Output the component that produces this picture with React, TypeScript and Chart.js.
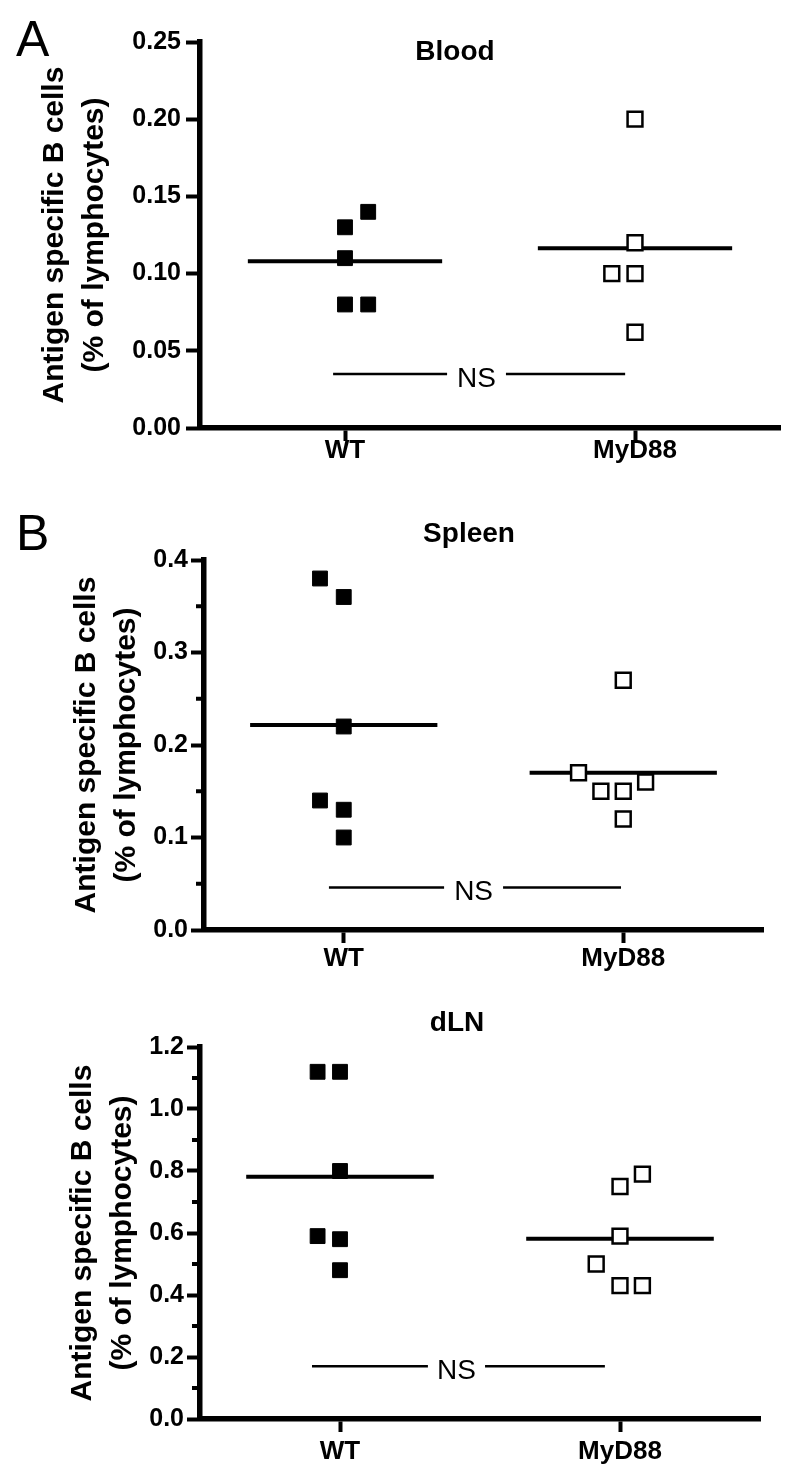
import React, { useEffect, useRef } from 'react';
import { Chart, registerables } from 'chart.js';

Chart.register(...registerables);

const FONT = '"Liberation Sans", Arial, Helvetica, sans-serif';

// Categories
const groups = ['WT', 'MyD88'];
const yTitle = ['Antigen specific B cells', '(% of lymphocytes)'];

// Panel A – Blood
const bloodWT = [0.13, 0.14, 0.11, 0.08, 0.08];
const bloodWTJitter = [0, 0.08, 0, 0, 0.08];
const bloodMyD88 = [0.2, 0.12, 0.1, 0.1, 0.062];
const bloodMyD88Jitter = [0, 0, -0.08, 0, 0];
const bloodTicks = [0, 0.05, 0.1, 0.15, 0.2, 0.25];
const bloodMinor: number[] = [];
const bloodNS = 0.035;
const bloodNSLeft = [-0.041, 0.352];
const bloodNSRight = [0.555, 0.966];

// Panel B – Spleen
const spleenWT = [0.38, 0.36, 0.22, 0.14, 0.13, 0.1];
const spleenWTJitter = [-0.085, 0, 0, -0.085, 0, 0];
const spleenMyD88 = [0.27, 0.17, 0.15, 0.15, 0.16, 0.12];
const spleenMyD88Jitter = [0, -0.16, -0.08, 0, 0.08, 0];
const spleenTicks = [0, 0.1, 0.2, 0.3, 0.4];
const spleenMinor = [0.05, 0.15, 0.25, 0.35];
const spleenNS = 0.046;
const spleenNSLeft = [-0.053, 0.359];
const spleenNSRight = [0.57, 0.992];

// Panel C – dLN
const dlnWT = [1.12, 1.12, 0.8, 0.59, 0.58, 0.48];
const dlnWTJitter = [-0.08, 0, 0, -0.08, 0, 0];
const dlnMyD88 = [0.79, 0.75, 0.59, 0.5, 0.43, 0.43];
const dlnMyD88Jitter = [0.08, 0, 0, -0.085, 0, 0.08];
const dlnTicks = [0, 0.2, 0.4, 0.6, 0.8, 1.0, 1.2];
const dlnMinor = [0.1, 0.3, 0.5, 0.7, 0.9, 1.1];
const dlnNS = 0.17;
const dlnNSLeft = [-0.1, 0.314];
const dlnNSRight = [0.518, 0.946];

const mean = (a: number[]) => a.reduce((s, v) => s + v, 0) / a.length;
const HALF = 0.335;

type Panel = {
  top: number;
  height: number;
  letter: string;
  letterPos: [number, number];
  title: string;
  titlePos: [number, number];
  wt: number[];
  wtJ: number[];
  ko: number[];
  koJ: number[];
  ticks: number[];
  minor: number[];
  decimals: number;
  ns: number;
  nsL: number[];
  nsR: number[];
  pad: { left: number; right: number; top: number; bottom: number };
  yWidth: number;
  xHeight: number;
  yTickLen: number;
  yTickPad: number;
  xTickPad: number;
};

const panels: Panel[] = [
  {
    top: 0, height: 475, letter: 'A', letterPos: [16, 56], title: 'Blood', titlePos: [455, 60],
    wt: bloodWT, wtJ: bloodWTJitter, ko: bloodMyD88, koJ: bloodMyD88Jitter,
    ticks: bloodTicks, minor: bloodMinor, decimals: 2, ns: bloodNS, nsL: bloodNSLeft, nsR: bloodNSRight,
    pad: { left: 35, right: 20, top: 42, bottom: 0 }, yWidth: 165, xHeight: 47,
    yTickLen: 14, yTickPad: 5, xTickPad: -6,
  },
  {
    top: 480, height: 500, letter: 'B', letterPos: [16, 70], title: 'Spleen', titlePos: [469, 62],
    wt: spleenWT, wtJ: spleenWTJitter, ko: spleenMyD88, koJ: spleenMyD88Jitter,
    ticks: spleenTicks, minor: spleenMinor, decimals: 1, ns: spleenNS, nsL: spleenNSLeft, nsR: spleenNSRight,
    pad: { left: 67, right: 37, top: 80, bottom: 0 }, yWidth: 137, xHeight: 50,
    yTickLen: 13, yTickPad: 3, xTickPad: 0,
  },
  {
    top: 985, height: 497, letter: '', letterPos: [0, 0], title: 'dLN', titlePos: [457, 46],
    wt: dlnWT, wtJ: dlnWTJitter, ko: dlnMyD88, koJ: dlnMyD88Jitter,
    ticks: dlnTicks, minor: dlnMinor, decimals: 1, ns: dlnNS, nsL: dlnNSLeft, nsR: dlnNSRight,
    pad: { left: 63, right: 40, top: 62, bottom: 0 }, yWidth: 137, xHeight: 63,
    yTickLen: 13, yTickPad: 3, xTickPad: 4,
  },
];

function makeConfig(p: Panel): any {
  const wtMean = mean(p.wt);
  const koMean = mean(p.ko);
  const lineDs = (data: any[], width: number) => ({
    data,
    showLine: true,
    borderColor: '#000',
    borderWidth: width,
    pointRadius: 0,
    pointHoverRadius: 0,
    fill: false,
  });
  const decoPlugin = {
    id: 'deco' + p.title,
    afterDraw(chart: any) {
      const ctx = chart.ctx;
      const xs = chart.scales.x;
      const ys = chart.scales.y;
      const area = chart.chartArea;
      ctx.save();
      // minor ticks
      ctx.strokeStyle = '#000';
      ctx.lineWidth = 4;
      p.minor.forEach((v) => {
        const y = ys.getPixelForValue(v);
        ctx.beginPath();
        ctx.moveTo(area.left - 8, y);
        ctx.lineTo(area.left, y);
        ctx.stroke();
      });
      // NS text
      ctx.fillStyle = '#000';
      ctx.font = `normal 28px ${FONT}`;
      ctx.textAlign = 'center';
      ctx.textBaseline = 'middle';
      const nsX = xs.getPixelForValue((p.nsL[1] + p.nsR[0]) / 2);
      ctx.fillText('NS', nsX, ys.getPixelForValue(p.ns) + 5);
      // title
      ctx.font = `bold 28px ${FONT}`;
      ctx.textBaseline = 'alphabetic';
      ctx.fillText(p.title, p.titlePos[0], p.titlePos[1]);
      // panel letter
      if (p.letter) {
        ctx.font = `normal 50px ${FONT}`;
        ctx.textAlign = 'left';
        ctx.fillText(p.letter, p.letterPos[0], p.letterPos[1]);
      }
      ctx.restore();
    },
  };
  return {
    type: 'scatter',
    data: {
      datasets: [
        {
          data: p.wt.map((v, i) => ({ x: 0 + p.wtJ[i], y: v })),
          pointStyle: 'rect',
          radius: 10.5,
          backgroundColor: '#000',
          borderColor: '#000',
          borderWidth: 1,
        },
        {
          data: p.ko.map((v, i) => ({ x: 1 + p.koJ[i], y: v })),
          pointStyle: 'rect',
          radius: 10.5,
          backgroundColor: '#fff',
          borderColor: '#000',
          borderWidth: 2.5,
        },
        lineDs([{ x: -HALF, y: wtMean }, { x: HALF, y: wtMean }], 4),
        lineDs([{ x: 1 - HALF, y: koMean }, { x: 1 + HALF, y: koMean }], 4),
        lineDs([{ x: p.nsL[0], y: p.ns }, { x: p.nsL[1], y: p.ns }], 2.5),
        lineDs([{ x: p.nsR[0], y: p.ns }, { x: p.nsR[1], y: p.ns }], 2.5),
      ],
    },
    options: {
      responsive: false,
      animation: false,
      events: [],
      layout: { padding: p.pad },
      plugins: { legend: { display: false }, tooltip: { enabled: false }, title: { display: false } },
      scales: {
        x: {
          type: 'linear',
          min: -0.5,
          max: 1.5,
          afterBuildTicks: (s: any) => {
            s.ticks = groups.map((_, i) => ({ value: i }));
          },
          afterFit: (s: any) => {
            s.height = p.xHeight;
          },
          ticks: {
            callback: (v: number) => groups[Math.round(v)],
            color: '#000',
            font: { family: FONT, size: 26, weight: 'bold' },
            padding: p.xTickPad,
            maxRotation: 0,
            autoSkip: false,
          },
          grid: { drawOnChartArea: false, drawTicks: true, tickLength: 13, tickWidth: 4, tickColor: '#000' },
          border: { display: true, width: 5.5, color: '#000' },
        },
        y: {
          type: 'linear',
          min: p.ticks[0],
          max: p.ticks[p.ticks.length - 1],
          afterBuildTicks: (s: any) => {
            s.ticks = p.ticks.map((v) => ({ value: v }));
          },
          afterFit: (s: any) => {
            s.width = p.yWidth;
          },
          ticks: {
            callback: (v: number) => Number(v).toFixed(p.decimals),
            color: '#000',
            font: { family: FONT, size: 25, weight: 'bold' },
            padding: p.yTickPad,
            autoSkip: false,
          },
          grid: { drawOnChartArea: false, drawTicks: true, tickLength: p.yTickLen, tickWidth: 4, tickColor: '#000' },
          border: { display: true, width: 5.5, color: '#000' },
          title: {
            display: true,
            text: yTitle,
            color: '#000',
            font: { family: FONT, size: 30, weight: 'bold', lineHeight: 40 / 30 },
            padding: 0,
          },
        },
      },
    },
    plugins: [decoPlugin],
  };
}

function PanelChart({ p }: { p: Panel }) {
  const ref = useRef<HTMLCanvasElement | null>(null);
  useEffect(() => {
    if (!ref.current) return;
    const chart = new Chart(ref.current, makeConfig(p));
    return () => chart.destroy();
  }, [p]);
  return (
    <canvas
      ref={ref}
      width={800}
      height={p.height}
      style={{ position: 'absolute', left: 0, top: p.top, width: 800, height: p.height }}
    />
  );
}

export default function App() {
  return (
    <div style={{ position: 'absolute', left: 0, top: 0, width: 800, height: 1482, background: '#fff', overflow: 'hidden' }}>
      {panels.map((p, i) => (
        <PanelChart key={i} p={p} />
      ))}
    </div>
  );
}
